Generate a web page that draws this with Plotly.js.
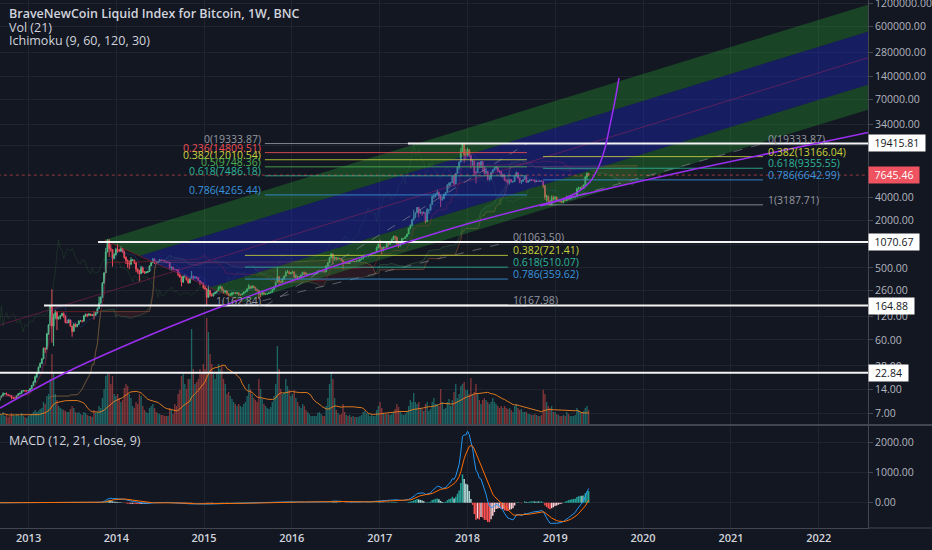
<!DOCTYPE html>
<html><head><meta charset="utf-8">
<script src="https://cdn.plot.ly/plotly-3.0.1.min.js"></script>
<style>html,body{margin:0;padding:0;background:#131722;overflow:hidden}#chart{width:932px;height:550px}</style>
</head><body><div id="chart"></div>
<script>
// ---------------- DATA (weekly bars, BNC Bitcoin index) ----------------
const firstWeek = '2012-09-03';
const firstOpen = 10.2;
const weekClose = [
11.0,11.6,12.3,12.4,12.0,11.8,11.7,10.9,10.9,10.9,11.6,12.3,12.5,13.4,13.5,13.4,13.4,13.6,
14.3,15.7,17.3,20.4,22.6,26.8,30.0,34.5,46.9,46.0,71.5,93.0,162,90,118,134,112,117,123,131,122,100,100,108,90,77,95,89,95,105,105,104,122,128,124,129,123,126,124,132,150,177,210,318,430,800,1140,880,855,660,735,860,
850,820,880,800,680,620,560,560,630,630,580,480,450,420,500,440,430,440,450,530,580,650,590,580,600,630,625,620,600,590,590,500,510,480,475,470,410,380,330,390,390,350,320,365,390,370,380,375,345,325,320,280,
270,210,260,225,220,235,245,255,275,285,260,245,255,235,222,225,240,240,235,240,225,225,232,245,250,270,290,275,290,280,265,255,230,230,240,230,231,235,240,245,265,285,325,385,335,325,360,390,435,440,420,430,
445,380,390,380,385,405,440,430,410,415,415,415,420,420,430,455,455,460,455,445,530,580,670,750,660,680,650,665,655,620,590,570,580,570,610,605,607,600,612,615,640,655,700,705,705,735,735,765,775,790,900,1000,
910,820,920,915,1020,1000,1050,1150,1260,1230,1020,960,1080,1180,1180,1250,1350,1600,1750,2050,2200,2530,2950,2500,2580,2500,2520,1950,2750,2760,3230,4050,4100,4350,4600,4150,3700,3800,4370,4600,5700,6000,6150,7400,5900,8000,9700,11200,15300,19000,13800,13800,
16200,13500,11500,11600,8250,8200,11000,9600,11400,9600,8200,8500,6800,6900,8300,8900,9400,9700,8600,8500,7400,7700,6500,6450,6150,6700,6250,6350,7400,8200,7000,6300,6400,6700,7300,6200,6500,6700,6600,6600,6300,6420,6350,6450,6400,5600,4000,4100,3600,3200,3950,3800,4000,
3550,3600,3550,3450,3650,3630,3850,3800,3900,4000,4000,4100,5050,5100,5300,5200,5700,7250,8000,7645.46];
const weekHigh = [
11.2,11.8,12.9,12.6,12.8,12.2,12.0,11.8,11.2,11.1,11.8,12.6,12.7,13.6,13.7,13.6,13.6,13.8,
14.6,16.0,18.0,21.0,23.5,27.5,31.0,35.0,48,48,74,95,167,266,130,145,140,119,125,133,135,122,109,111,108,90,98,98,96,107,108,108,124,130,129,131,130,127,140,137,155,215,215,330,440,900,1150,1160,1000,870,770,900,
1000,880,950,890,830,700,640,620,680,650,630,590,490,470,530,520,455,455,455,535,600,670,660,610,610,650,640,630,625,600,595,590,525,520,485,480,480,440,390,400,410,390,370,375,455,400,390,390,375,345,335,320,
300,275,300,260,240,240,248,260,290,298,290,270,260,260,238,238,245,245,245,242,242,228,235,250,255,272,310,295,300,297,285,270,260,235,240,245,235,238,242,250,270,290,335,495,390,340,365,400,460,470,460,440,
460,450,415,395,390,410,445,445,440,420,420,420,425,425,432,460,470,465,460,455,535,590,690,780,760,700,680,670,670,660,620,600,590,585,615,630,612,607,615,620,645,660,720,745,720,750,745,770,780,795,935,1020,
1150,920,925,925,1030,1070,1055,1190,1290,1290,1250,1050,1090,1210,1200,1255,1360,1610,1800,2100,2760,2560,2980,2980,2780,2600,2640,2530,2900,2800,3290,4200,4480,4460,4980,4700,4300,4100,4400,4650,5850,6200,6250,7600,7800,8150,9800,11400,17000,19334,19000,16500,
17200,16300,14000,12100,11700,8600,11200,11300,11500,11600,9900,9100,8400,7500,8400,8950,9700,9950,9700,8900,8500,7800,7700,6800,6800,6750,6800,6400,7600,8500,8200,7100,6600,6800,7300,7400,6600,6800,6800,6650,6650,6600,6450,6500,6550,6450,5600,4300,4200,3600,4200,4200,4100,
4100,3750,3650,3550,3700,3700,4200,3900,3950,4050,4100,4150,5300,5450,5350,5650,5800,7500,8300,8100];
const weekLow = [
10.1,10.9,11.6,12.0,11.8,11.6,11.3,10.5,10.6,10.7,10.8,11.5,12.0,12.4,13.2,13.1,13.2,13.2,
13.5,14.1,15.6,17.1,19.5,22.4,26.5,29.5,34,41,45,70,92,55,50,110,80,109,110,120,115,98,97,98,88,66,77,87,87,94,103,100,104,118,117,122,122,122,109,123,132,150,176,209,315,430,790,690,800,520,640,720,
780,800,800,780,650,560,500,480,540,610,560,440,420,340,420,430,420,425,430,445,540,600,560,565,570,600,610,610,590,570,575,480,460,470,470,460,390,375,290,320,370,345,315,320,365,350,365,360,340,300,310,270,
260,163,210,215,215,215,230,235,255,270,255,235,240,230,218,215,222,230,230,232,222,220,225,230,240,250,265,270,275,275,255,250,200,210,225,228,226,228,235,237,245,265,285,320,300,315,320,355,390,430,415,415,
425,370,365,365,365,370,400,400,400,400,410,410,410,415,420,425,445,440,450,435,440,525,575,660,560,620,620,640,650,610,480,560,565,565,565,600,600,595,598,605,615,635,650,680,700,700,725,730,755,770,790,900,
850,750,820,890,915,940,995,1050,1150,1110,950,900,930,1070,1160,1170,1250,1350,1550,1700,2000,2150,2500,2200,2450,2300,2480,1850,1950,2450,2680,3200,3800,3980,4350,3950,2980,3600,3850,4200,4600,5150,5400,6100,5500,5900,8000,9000,11200,15300,11000,12200,
13100,13000,9300,10000,7600,6000,8200,9300,9500,8500,7800,7900,6500,6500,6600,8000,8700,9000,8400,8100,7250,7100,6400,6200,5800,5800,6200,6100,6300,7400,6900,6000,5900,6200,6700,6100,6150,6250,6400,6450,6150,6280,6300,6300,6340,5200,3700,3500,3300,3188,3200,3600,3650,
3550,3500,3450,3380,3350,3550,3600,3700,3700,3800,3930,3950,4100,4950,5000,5150,5150,5700,6600,7500];
// weekly volume, arbitrary units (relative bar heights)
const weekVolume = [
10,9,12,8,9,7,8,11,9,8,10,9,8,11,8,7,6,8,
9,10,12,14,12,13,15,16,22,20,28,30,45,70,52,30,24,18,16,15,14,13,12,12,15,18,16,12,11,12,10,9,12,11,9,8,8,7,14,11,12,18,16,26,35,48,52,50,40,48,30,28,
30,26,22,24,36,40,38,30,26,18,16,22,20,30,28,18,14,12,11,16,18,20,16,12,11,10,9,9,8,8,8,16,14,10,20,18,30,34,48,50,40,35,45,45,95,55,40,42,45,55,50,60,
55,106,92,70,60,50,45,52,60,55,58,45,40,30,32,28,25,22,20,18,20,18,17,20,22,28,40,35,30,26,24,22,45,35,25,20,18,16,15,17,22,28,40,78,55,35,30,32,45,38,34,28,
30,34,26,22,18,16,20,18,14,12,10,8,8,8,8,11,12,10,8,8,18,26,40,51,45,26,14,11,9,10,20,12,9,8,9,7,8,7,7,7,8,9,12,13,11,10,8,9,8,8,14,18,
22,16,11,10,10,10,9,10,12,15,20,17,12,10,9,10,12,18,24,22,31,22,20,22,16,15,13,20,22,13,15,22,26,20,20,18,35,22,15,16,22,25,18,24,32,40,26,30,38,40,42,34,
34,30,46,30,32,40,30,24,20,24,26,24,22,20,22,26,22,20,18,16,18,16,18,16,15,16,14,12,18,20,16,14,15,12,12,12,10,10,9,9,10,9,8,8,9,34,30,22,18,16,18,12,12,
10,9,8,8,9,8,12,10,8,8,8,9,16,14,12,12,13,16,18,14];

// indicator settings (as in the legend)
const volMaLen = 21;
const ichiConv = 9, ichiBase = 60, ichiSpanB = 120, ichiDisp = 30;
const macdFast = 12, macdSlow = 21, macdSignal = 9;

// price axis ticks
const priceTicks = [7,14,28,60,120,260,500,1000,2000,4000,18000,34000,70000,140000,280000,600000,1200000];
const hiddenTicks = [1000];   // hidden behind the 1070.67 label box
const macdTicks = [0,1000,2000];

// ---------------- DRAWINGS (anchor dates / prices) ----------------
const channelLeftDates  = ['2013-11-11','2014-04-08','2015-01-23','2015-06-10'];
const channelLeftPrices = [1134, 708.5, 280.5, 181.5];          // L1, L2, L3, L4
const channelRightDate  = '2022-09-13';
const channelRightPrices = [1279000, 578300, 121700, 58330];    // L1, L2, L3, L4
const channelMidDates  = ['2012-09-04','2022-09-13'];
const channelMidPrices = [93.1, 269200];

const trendDates  = ['2012-09-04','2013-06-10','2014-05-21','2015-03-09','2016-02-04','2017-01-02','2017-12-01','2019-01-21','2020-08-25','2022-08-02'];
const trendPrices = [8.11, 23.4, 69.4, 158.1, 370.9, 820.6, 1712, 3677, 9421, 27160];
const paraDates  = ['2018-10-30','2019-01-21','2019-04-05','2019-05-25','2019-06-28','2019-07-27','2019-08-21','2019-09-07','2019-09-23'];
const paraPrices = [3082, 3677, 4652, 6243, 9421, 16961, 38650, 69590, 132900];

const hLevelPrices = [19415.81, 1070.67, 164.88, 22.84];
const hLevelStarts = ['2017-04-28','2013-10-17','2013-03-06','2012-08-01'];
const hLevelLabelWidth = [54, 48, 43, 37];
const lastPrice = 7645.46;

const fib1Levels = [0,0.236,0.382,0.5,0.618,0.786,1];
const fib1Prices = [19333.87,14809.51,12010.54,9748.36,7486.18,4265.44,162.84];
const fib2Levels = [0,0.382,0.618,0.786,1];
const fib2Prices = [1063.50,721.41,510.07,359.62,167.98];
const fib3Levels = [0,0.382,0.618,0.786,1];
const fib3Prices = [19333.87,13166.04,9355.55,6642.99,3187.71];
const fibs = [
  {start:'2015-09-11', end:'2018-09-05', levels:fib1Levels, prices:fib1Prices, side:'left'},
  {start:'2015-06-20', end:'2018-06-18', levels:fib2Levels, prices:fib2Prices, side:'right'},
  {start:'2018-11-11', end:'2021-05-14', levels:fib3Levels, prices:fib3Prices, side:'right'}
];
const fibColors = {'0':'#9598a1','0.236':'#ef4f55','0.382':'#c8d23c','0.5':'#4caf50','0.618':'#30b596','0.786':'#3a95dd','1':'#9598a1'};

// ---------------- BUILD ----------------
const N = weekClose.length;
if (weekHigh.length!==N || weekLow.length!==N || weekVolume.length!==N) throw new Error('length mismatch');
const DAY = 864e5;
const t0 = Date.parse(firstWeek+'T00:00:00Z');
const iso = t => new Date(t).toISOString().slice(0,10);
const weekDates = weekClose.map((_,i)=>iso(t0+i*7*DAY));
const weekOpen = weekClose.map((c,i)=> i===0 ? firstOpen : weekClose[i-1]);
const hi = weekHigh.map((h,i)=>Math.max(h,weekOpen[i],weekClose[i]));
const lo = weekLow.map((l,i)=>Math.min(l,weekOpen[i],weekClose[i]));

const FONT = '"Open Sans", "Liberation Sans", sans-serif';
const GRID = '#20242f';
const AXLINE = '#434651';
const UP = '#53b987', DOWN = '#eb4d5c';
const traces = [];
const annotations = [];

// volume (base axis y)
const volColors = weekClose.map((c,i)=> c>=weekOpen[i] ? 'rgba(38,166,154,0.55)' : 'rgba(239,83,80,0.5)');
traces.push({type:'bar', x:weekDates, y:weekVolume, xaxis:'x', yaxis:'y', marker:{color:volColors, line:{width:0}}, width:7*DAY*0.8, hoverinfo:'skip'});
const volMa = weekVolume.map((_,i)=>{let s=0,n=0;for(let k=Math.max(0,i-volMaLen+1);k<=i;k++){s+=weekVolume[k];n++;}return s/n;});
traces.push({type:'scatter', mode:'lines', x:weekDates, y:volMa, xaxis:'x', yaxis:'y', line:{color:'rgba(240,130,30,0.9)', width:1}, hoverinfo:'skip'});

// Ichimoku
function mid(n,i){let h=-Infinity,l=Infinity;for(let k=Math.max(0,i-n+1);k<=i;k++){if(hi[k]>h)h=hi[k];if(lo[k]<l)l=lo[k];}return (h+l)/2;}
const conv = weekDates.map((_,i)=>mid(ichiConv,i));
const base = weekDates.map((_,i)=>mid(ichiBase,i));
const spanA = conv.map((c,i)=>(c+base[i])/2);
const spanB = weekDates.map((_,i)=>mid(ichiSpanB,i));
const sh = ichiDisp-1;
const leadDates = weekDates.map((_,i)=>iso(t0+(i+sh)*7*DAY));
const lagDates = weekDates.map((_,i)=>iso(t0+(i-sh)*7*DAY));
let segStart = 0;
function pushCloud(a,b){
  const up = spanA[a] >= spanB[a];
  const xs = leadDates.slice(a,b+1), ya = spanA.slice(a,b+1), yb = spanB.slice(a,b+1);
  traces.push({type:'scatter', mode:'lines', x:xs.concat(xs.slice().reverse()), y:ya.concat(yb.slice().reverse()), xaxis:'x', yaxis:'y3',
    fill:'toself', fillcolor: up ? 'rgba(67,160,71,0.08)' : 'rgba(229,57,53,0.11)', line:{width:0}, hoverinfo:'skip'});
}
for(let i=1;i<N;i++){
  if((spanA[i]>=spanB[i]) !== (spanA[segStart]>=spanB[segStart])){ pushCloud(segStart,i); segStart=i; }
}
pushCloud(segStart,N-1);
traces.push({type:'scatter', mode:'lines', x:leadDates, y:spanA, xaxis:'x', yaxis:'y3', line:{color:'rgba(120,190,120,0.22)', width:1}, hoverinfo:'skip'});
traces.push({type:'scatter', mode:'lines', x:leadDates, y:spanB, xaxis:'x', yaxis:'y3', line:{color:'rgba(190,95,55,0.45)', width:1}, hoverinfo:'skip'});
traces.push({type:'scatter', mode:'lines', x:lagDates, y:weekClose, xaxis:'x', yaxis:'y3', line:{color:'rgba(67,160,71,0.16)', width:1}, hoverinfo:'skip'});
traces.push({type:'scatter', mode:'lines', x:weekDates, y:conv, xaxis:'x', yaxis:'y3', line:{color:'rgba(41,98,255,0.22)', width:1}, hoverinfo:'skip'});
traces.push({type:'scatter', mode:'lines', x:weekDates, y:base, xaxis:'x', yaxis:'y3', line:{color:'rgba(170,30,35,0.5)', width:1}, hoverinfo:'skip'});

// candles
traces.push({type:'candlestick', x:weekDates, open:weekOpen, high:hi, low:lo, close:weekClose, xaxis:'x', yaxis:'y3',
  increasing:{line:{color:UP,width:1}, fillcolor:UP}, decreasing:{line:{color:DOWN,width:1}, fillcolor:DOWN}, whiskerwidth:0, hoverinfo:'skip'});

// channel bands (drawn above candles, translucent)
function band(iTop,iBot,color){
  traces.push({type:'scatter', mode:'lines', x:[channelLeftDates[iTop],channelRightDate,channelRightDate,channelLeftDates[iBot],channelLeftDates[iTop]],
    y:[channelLeftPrices[iTop],channelRightPrices[iTop],channelRightPrices[iBot],channelLeftPrices[iBot],channelLeftPrices[iTop]],
    xaxis:'x', yaxis:'y3', fill:'toself', fillcolor:color, line:{width:0}, hoverinfo:'skip'});
}
band(0,1,'rgba(40,160,50,0.33)');
band(1,2,'rgba(30,40,200,0.38)');
band(2,3,'rgba(40,160,50,0.33)');
traces.push({type:'scatter', mode:'lines', x:channelMidDates, y:channelMidPrices, xaxis:'x', yaxis:'y3', line:{color:'rgba(170,35,95,0.45)', width:1}, hoverinfo:'skip'});
traces.push({type:'scatter', mode:'lines', x:[channelLeftDates[0],channelLeftDates[3]], y:[channelLeftPrices[0],channelLeftPrices[3]], xaxis:'x', yaxis:'y3', line:{color:'rgba(150,30,40,0.6)', width:1}, hoverinfo:'skip'});

// fibs
fibs.forEach(f=>{
  traces.push({type:'scatter', mode:'lines', x:[f.start,f.end], y:[f.prices[f.prices.length-1], f.prices[0]], xaxis:'x', yaxis:'y3', line:{color:'rgba(150,153,162,0.55)', width:1, dash:'dash'}, hoverinfo:'skip'});
  f.levels.forEach((lv,k)=>{
    const c = fibColors[String(lv)];
    traces.push({type:'scatter', mode:'lines', x:[f.start,f.end], y:[f.prices[k],f.prices[k]], xaxis:'x', yaxis:'y3', line:{color:c, width:1}, opacity:0.85, hoverinfo:'skip'});
    annotations.push({xref:'x', yref:'y3', x: f.side==='left'? f.start : f.end, y: Math.log10(f.prices[k]),
      xanchor: f.side==='left' ? 'right':'left', yanchor:'middle', xshift: f.side==='left'? -2 : 3, yshift:5,
      text: String(lv)+'('+f.prices[k].toFixed(2)+')', showarrow:false, font:{family:FONT, size:10.5, color:c}});
  });
});

// last price dotted line
traces.push({type:'scatter', mode:'lines', x:['2012-08-01','2022-09-13'], y:[lastPrice,lastPrice], xaxis:'x', yaxis:'y3', line:{color:'rgba(239,83,80,0.6)', width:1, dash:'dot'}, hoverinfo:'skip'});

// white horizontal rays
hLevelPrices.forEach((p,k)=>{
  traces.push({type:'scatter', mode:'lines', x:[hLevelStarts[k],'2022-09-13'], y:[p,p], xaxis:'x', yaxis:'y3', line:{color:'#f4f4f4', width:2}, hoverinfo:'skip'});
  annotations.push({xref:'paper', yref:'y3', x:1, y:Math.log10(p), xanchor:'left', yanchor:'middle', text:p.toFixed(2), showarrow:false,
    bgcolor:'#ffffff', borderpad:1, width:hLevelLabelWidth[k], align:'center', font:{family:FONT, size:10.5, color:'#131722'}});
});
annotations.push({xref:'paper', yref:'y3', x:1, y:Math.log10(lastPrice), xanchor:'left', yanchor:'middle', text:lastPrice.toFixed(2), showarrow:false,
  bgcolor:'#ef5360', borderpad:1, width:48, align:'center', font:{family:FONT, size:10.5, color:'#ffffff'}});

// purple trend curve and parabola
traces.push({type:'scatter', mode:'lines', x:trendDates, y:trendPrices, xaxis:'x', yaxis:'y3', line:{color:'#9b2ff0', width:1.5, shape:'spline', smoothing:0.8}, hoverinfo:'skip'});
traces.push({type:'scatter', mode:'lines', x:paraDates, y:paraPrices, xaxis:'x', yaxis:'y3', line:{color:'#9b2ff0', width:1.5, shape:'spline', smoothing:0.8}, hoverinfo:'skip'});

// MACD
function ema(src,n){const a=2/(n+1);const out=[];src.forEach((v,i)=>out.push(i===0?v:a*v+(1-a)*out[i-1]));return out;}
const eF = ema(weekClose,macdFast), eS = ema(weekClose,macdSlow);
const macd = eF.map((v,i)=>v-eS[i]);
const signal = ema(macd,macdSignal);
const hist = macd.map((v,i)=>v-signal[i]);
const histColors = hist.map((h,i)=>{const p = i>0?hist[i-1]:0; return h>=0 ? (h>=p?'#26a69a':'#b2dfdb') : (h<p?'#ff5252':'#ffcdd2');});
traces.push({type:'bar', x:weekDates, y:hist, xaxis:'x', yaxis:'y2', marker:{color:histColors, line:{width:0}}, width:7*DAY*0.85, hoverinfo:'skip'});
traces.push({type:'scatter', mode:'lines', x:weekDates, y:macd, xaxis:'x', yaxis:'y2', line:{color:'#2196f3', width:1}, hoverinfo:'skip'});
traces.push({type:'scatter', mode:'lines', x:weekDates, y:signal, xaxis:'x', yaxis:'y2', line:{color:'#ff6d00', width:1}, hoverinfo:'skip'});

// legends (text)
const legendLines = [
  {t:'BraveNewCoin Liquid Index for Bitcoin, 1W, BNC', y:(528-13)/528, w:600},
  {t:'Vol (21)', y:(528-27)/528, w:400},
  {t:'Ichimoku (9, 60, 120, 30)', y:(528-41)/528, w:400},
  {t:'MACD (12, 21, close, 9)', y:(528-440)/528, w:400}
];
legendLines.forEach(l=>annotations.push({xref:'paper', yref:'paper', x:7/868, y:l.y, xanchor:'left', yanchor:'middle', text:l.t, showarrow:false,
  font:{family:FONT, size:12.5, color:'#d1d4dc', weight:l.w}}));

const maxVol = Math.max(...weekVolume);
const layout = {
  width:932, height:550, margin:{l:0, r:64, t:0, b:22, pad:0},
  paper_bgcolor:'#131722', plot_bgcolor:'#131722', showlegend:false, hovermode:false, dragmode:false,
  font:{family:FONT, color:'#b2b5be', size:11},
  xaxis:{type:'date', range:['2012-09-04','2022-07-25'], domain:[0,1], anchor:'y2', tick0:'2013-01-01', dtick:'M12', tickformat:'%Y',
    showgrid:true, gridcolor:GRID, gridwidth:1, showline:true, linecolor:AXLINE, ticks:'', tickfont:{family:FONT, size:11, color:'#d1d4dc', weight:600},
    zeroline:false, fixedrange:true, rangeslider:{visible:false}},
  yaxis:{domain:[104/528,1], range:[0, maxVol*4.0], visible:false, fixedrange:true, anchor:'x'},
  yaxis3:{overlaying:'y', anchor:'x', side:'right', type:'log', range:[0.7046, 6.1197], tickmode:'array', tickvals:priceTicks,
    ticktext:priceTicks.map(v=>hiddenTicks.includes(v)?'':v.toFixed(2)), showgrid:true, gridcolor:GRID, showline:true, linecolor:AXLINE, ticks:'outside', ticklen:4, tickcolor:AXLINE,
    tickfont:{family:FONT, size:10.5, color:'#b2b5be'}, zeroline:false, fixedrange:true, ticklabeloverflow:'allow'},
  yaxis2:{domain:[0,102/528], anchor:'x', side:'right', range:[-835,2538], tickmode:'array', tickvals:macdTicks, ticktext:macdTicks.map(v=>v.toFixed(2)),
    showgrid:true, gridcolor:GRID, showline:true, linecolor:AXLINE, ticks:'outside', ticklen:4, tickcolor:AXLINE,
    tickfont:{family:FONT, size:10.5, color:'#b2b5be'}, zeroline:false, fixedrange:true},
  shapes:[
    {type:'line', xref:'paper', yref:'paper', x0:0, x1:1.0737, y0:103/528, y1:103/528, line:{color:AXLINE, width:2}},
    {type:'line', xref:'paper', yref:'paper', x0:1, x1:1.0737, y0:0, y1:0, line:{color:AXLINE, width:1}}
  ],
  annotations: annotations
};
Plotly.newPlot('chart', traces, layout, {staticPlot:true, displayModeBar:false});
</script>
</body></html>
